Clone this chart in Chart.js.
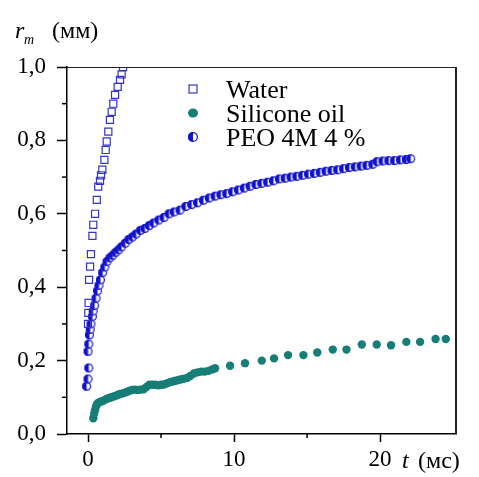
<!DOCTYPE html>
<html>
<head>
<meta charset="utf-8">
<script src="https://cdn.jsdelivr.net/npm/chart.js@4.4.0/dist/chart.umd.min.js"></script>
<style>
  html, body { margin: 0; padding: 0; background: #fff; }
</style>
</head>
<body>
<canvas id="chart" width="479" height="477"></canvas>
<script>
// Water (open squares)
const waterT = [0, 0.02, 0.04, 0.07, 0.14, 0.2, 0.3, 0.36, 0.48, 0.6, 0.7, 0.82, 0.89, 0.98, 1.12, 1.21, 1.28, 1.39, 1.5, 1.62, 1.73, 1.85, 2.03, 2.19, 2.3, 2.4];
const waterR = [0.30, 0.33, 0.357, 0.42, 0.456, 0.49, 0.54, 0.57, 0.60, 0.638, 0.674, 0.69, 0.705, 0.72, 0.747, 0.774, 0.797, 0.824, 0.856, 0.878, 0.90, 0.924, 0.946, 0.965, 0.98, 1.0];

// Silicone oil (filled teal circles)
const siliconeT = [0.36, 0.42, 0.48, 0.55, 0.62, 0.7, 0.85, 1.0, 1.15, 1.3, 1.45, 1.6, 1.75, 1.9, 2.05, 2.2, 2.4, 2.6, 2.8, 3.0, 3.2, 3.4, 3.6, 3.8, 4.0, 4.2, 4.4, 4.6, 4.8, 5.0, 5.2, 5.4, 5.6, 5.8, 6.0, 6.2, 6.4, 6.6, 6.8, 7.0, 7.25, 7.5, 7.75, 8.0, 8.25, 8.5, 8.7, 9.73, 10.75, 11.9, 12.74, 13.7, 14.75, 15.7, 16.76, 17.7, 18.75, 19.77, 20.75, 21.8, 22.74, 23.8, 24.5];
const siliconeR = [0.043, 0.055, 0.065, 0.075, 0.082, 0.085, 0.088, 0.09, 0.093, 0.096, 0.098, 0.10, 0.102, 0.104, 0.107, 0.109, 0.111, 0.114, 0.117, 0.12, 0.121, 0.12, 0.121, 0.122, 0.128, 0.134, 0.134, 0.134, 0.133, 0.134, 0.135, 0.138, 0.141, 0.143, 0.145, 0.147, 0.149, 0.151, 0.153, 0.158, 0.165, 0.168, 0.17, 0.17, 0.172, 0.176, 0.179, 0.186, 0.193, 0.20, 0.206, 0.215, 0.215, 0.222, 0.23, 0.23, 0.244, 0.244, 0.242, 0.251, 0.251, 0.259, 0.259];

// PEO 4M 4 % (half-filled circles)
const peoT = [-0.1, 0, 0.05, 0, 0.05, 0.1, 0.15, 0.2, 0.3, 0.35, 0.45, 0.55, 0.65, 0.75, 0.85, 1.0, 1.15, 1.3, 1.5, 1.7, 1.9, 2.1, 2.3, 2.55, 2.8, 3.05, 3.3, 3.6, 3.9, 4.2, 4.5, 4.85, 5.2, 5.55, 5.9, 6.3, 6.7, 7.1, 7.5, 7.9, 8.3, 8.7, 9.1, 9.5, 9.9, 10.3, 10.7, 11.1, 11.5, 11.9, 12.3, 12.7, 13.1, 13.5, 13.9, 14.3, 14.7, 15.1, 15.5, 15.9, 16.3, 16.7, 17.1, 17.5, 17.9, 18.3, 18.7, 19.1, 19.5, 19.8, 20.2, 20.6, 21.0, 21.4, 21.8, 22.1];
const peoR = [0.13, 0.15, 0.18, 0.225, 0.245, 0.27, 0.285, 0.30, 0.32, 0.335, 0.35, 0.37, 0.39, 0.405, 0.42, 0.44, 0.455, 0.47, 0.48, 0.487, 0.495, 0.502, 0.51, 0.52, 0.53, 0.537, 0.545, 0.555, 0.56, 0.568, 0.575, 0.583, 0.59, 0.60, 0.605, 0.61, 0.62, 0.625, 0.63, 0.637, 0.643, 0.648, 0.652, 0.655, 0.66, 0.665, 0.67, 0.675, 0.68, 0.683, 0.686, 0.69, 0.695, 0.697, 0.70, 0.702, 0.705, 0.708, 0.71, 0.713, 0.716, 0.718, 0.72, 0.723, 0.726, 0.728, 0.73, 0.732, 0.735, 0.742, 0.744, 0.745, 0.745, 0.747, 0.748, 0.75];

const seriesNames = ['Water', 'Silicone oil', 'PEO 4M 4 %'];

const xTicks = [0, 10, 20];
const xMinorTicks = [5, 15];
const yTicks = [0, 0.2, 0.4, 0.6, 0.8, 1.0];
const yTickLabels = ['0,0', '0,2', '0,4', '0,6', '0,8', '1,0'];
const yMinorTicks = [0.1, 0.3, 0.5, 0.7, 0.9];

const serif = "'Liberation Serif', 'Times New Roman', serif";
const waterColor = '#3434c8';
const peoColor = '#1212cc';
const tealColor = '#177d77';

function pts(xs, ys) {
  return xs.map((x, i) => ({ x: x, y: ys[i] }));
}

// half-filled circle marker for PEO
function halfCircle(r) {
  const c = document.createElement('canvas');
  const s = Math.ceil(r * 2 + 2);
  c.width = s; c.height = s;
  const g = c.getContext('2d');
  const m = s / 2;
  g.fillStyle = '#fff';
  g.beginPath(); g.arc(m, m, r, 0, Math.PI * 2); g.fill();
  g.fillStyle = peoColor;
  g.beginPath(); g.arc(m, m, r, Math.PI / 2, Math.PI * 1.5); g.closePath(); g.fill();
  g.strokeStyle = peoColor; g.lineWidth = 1.2;
  g.beginPath(); g.arc(m, m, r - 0.6, 0, Math.PI * 2); g.stroke();
  return c;
}
const peoMarker = halfCircle(4.5);

const extras = {
  id: 'extras',
  afterDraw(chart) {
    const ctx = chart.ctx;
    const a = chart.chartArea;
    const xs = chart.scales.x, ys = chart.scales.y;
    ctx.save();
    // frame
    ctx.strokeStyle = '#222';
    ctx.lineWidth = 1;
    ctx.beginPath(); ctx.moveTo(a.left, a.top + 0.5); ctx.lineTo(a.right, a.top + 0.5); ctx.stroke();
    ctx.lineWidth = 2;
    ctx.beginPath(); ctx.moveTo(a.right, a.top); ctx.lineTo(a.right, a.bottom); ctx.stroke();
    // minor ticks
    ctx.lineWidth = 1.5;
    ctx.strokeStyle = '#000';
    yMinorTicks.forEach(v => {
      const y = ys.getPixelForValue(v);
      ctx.beginPath(); ctx.moveTo(a.left - 5, y); ctx.lineTo(a.left, y); ctx.stroke();
    });
    xMinorTicks.forEach(v => {
      const x = xs.getPixelForValue(v);
      ctx.beginPath(); ctx.moveTo(x, a.bottom); ctx.lineTo(x, a.bottom + 4); ctx.stroke();
    });
    // legend
    const lx = 193, ly = [89, 113, 137];
    ctx.fillStyle = '#000';
    ctx.font = '26px ' + serif;
    ctx.textBaseline = 'alphabetic';
    seriesNames.forEach((n, i) => ctx.fillText(n, 226, ly[i] + 9));
    ctx.strokeStyle = waterColor; ctx.lineWidth = 1.2;
    ctx.strokeRect(lx - 4, ly[0] - 4, 8, 8);
    ctx.fillStyle = tealColor;
    ctx.beginPath(); ctx.ellipse(lx, ly[1], 5, 4.5, 0, 0, Math.PI * 2); ctx.fill();
    ctx.drawImage(halfCircle(5), lx - 6, ly[2] - 6);
    // axis titles
    ctx.fillStyle = '#000';
    ctx.font = 'italic 24px ' + serif;
    ctx.fillText('r', 15, 38);
    ctx.font = 'italic 14px ' + serif;
    ctx.fillText('m', 24, 44);
    ctx.font = '24px ' + serif;
    ctx.fillText('(мм)', 52, 38);
    ctx.font = 'italic 24px ' + serif;
    ctx.fillText('t', 402, 468);
    ctx.font = '24px ' + serif;
    ctx.fillText('(мс)', 418, 468);
    ctx.restore();
  }
};

new Chart(document.getElementById('chart'), {
  type: 'scatter',
  data: {
    datasets: [
      {
        label: seriesNames[0],
        data: pts(waterT, waterR),
        pointStyle: 'rect',
        pointRadius: 5,
        borderWidth: 1.2,
        borderColor: waterColor,
        backgroundColor: 'rgba(255,255,255,0)'
      },
      {
        label: seriesNames[1],
        data: pts(siliconeT, siliconeR),
        pointStyle: 'circle',
        pointRadius: 4.2,
        borderWidth: 0,
        backgroundColor: tealColor
      },
      {
        label: seriesNames[2],
        data: pts(peoT, peoR),
        pointStyle: peoMarker,
        pointRadius: 4.5
      }
    ]
  },
  options: {
    responsive: false,
    animation: false,
    layout: { padding: { top: 67, right: 23, left: 0, bottom: 0 } },
    plugins: { legend: { display: false }, tooltip: { enabled: false } },
    scales: {
      x: {
        type: 'linear',
        min: -1.44,
        max: 25.2,
        afterBuildTicks: s => { s.ticks = xTicks.map(v => ({ value: v })); },
        afterFit: s => { s.height = 43; },
        border: { display: true, color: '#000', width: 1.5 },
        grid: { drawOnChartArea: false, tickLength: 8, tickWidth: 1.5, tickColor: '#000' },
        ticks: { color: '#000', font: { family: serif, size: 23 }, padding: 4, maxRotation: 0 }
      },
      y: {
        type: 'linear',
        min: 0,
        max: 1,
        afterBuildTicks: s => { s.ticks = yTicks.map(v => ({ value: v })); },
        afterFit: s => { s.width = 67; },
        border: { display: true, color: '#000', width: 1.5 },
        grid: { drawOnChartArea: false, tickLength: 10, tickWidth: 1.5, tickColor: '#000' },
        ticks: {
          color: '#000',
          font: { family: serif, size: 23 },
          padding: 11,
          callback: (v, i) => yTickLabels[i]
        }
      }
    }
  },
  plugins: [extras]
});
</script>
</body>
</html>
